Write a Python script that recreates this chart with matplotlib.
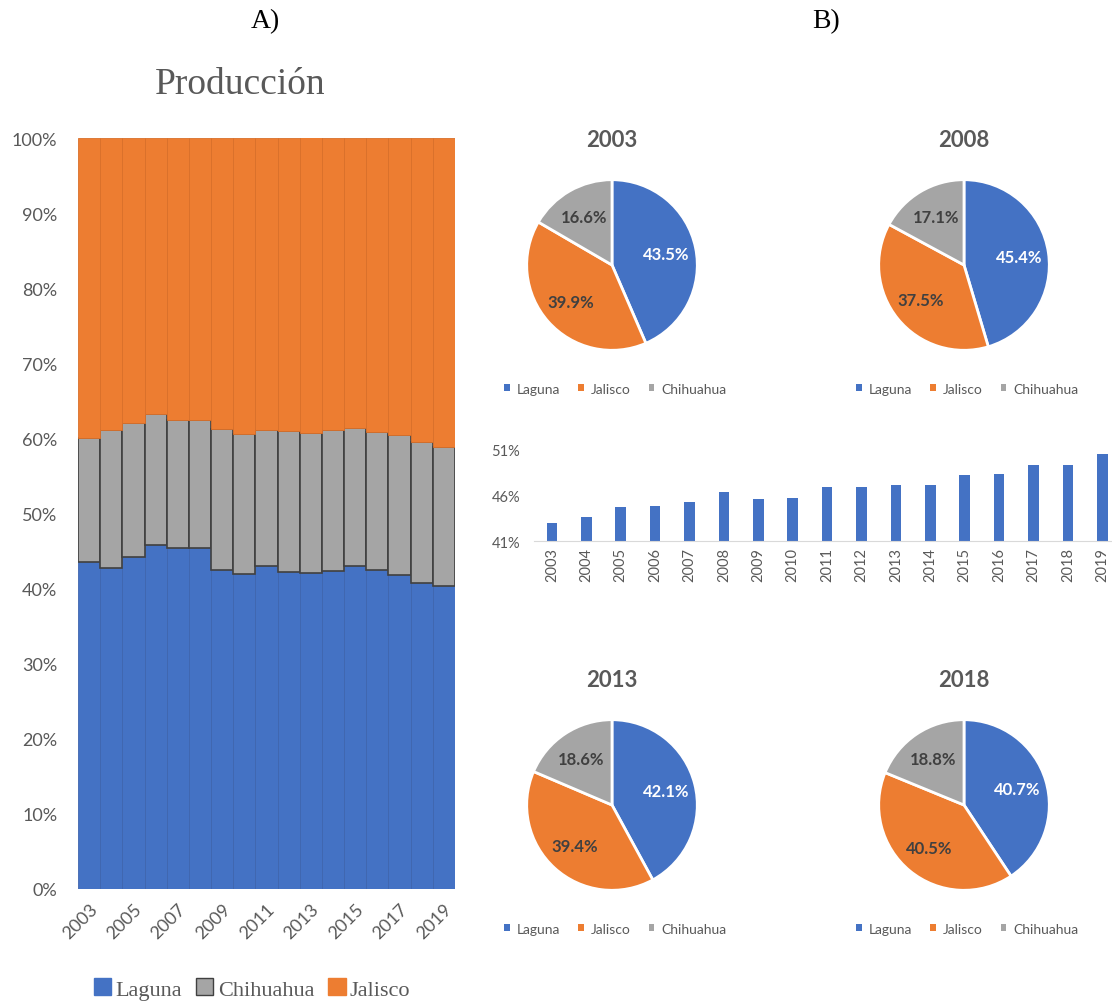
import numpy as np
import matplotlib
matplotlib.use("Agg")
import matplotlib.pyplot as plt
from matplotlib.patches import Patch

# data
years = list(range(2003, 2020))
laguna = [43.5, 42.8, 44.2, 45.8, 45.4, 45.4, 42.5, 41.9, 43.0, 42.2, 42.1, 42.3, 43.0, 42.5, 41.8, 40.7, 40.3]
chihuahua = [16.6, 18.3, 17.8, 17.45, 17.0, 17.1, 18.7, 18.7, 18.15, 18.8, 18.6, 18.8, 18.4, 18.4, 18.7, 18.8, 18.6]
jalisco = [39.9, 38.9, 38.0, 36.75, 37.6, 37.5, 38.8, 39.4, 38.85, 39.0, 39.4, 38.9, 38.6, 39.1, 39.5, 40.5, 41.1]

pie_years = [2003, 2008, 2013, 2018]
pie_laguna = [43.5, 45.4, 42.1, 40.7]
pie_jalisco = [39.9, 37.5, 39.4, 40.5]
pie_chihuahua = [16.6, 17.1, 18.6, 18.8]

laguna_share = [43.0, 43.7, 44.7, 44.9, 45.3, 46.4, 45.6, 45.7, 46.9, 46.9, 47.2, 47.2, 48.2, 48.3, 49.3, 49.3, 50.5]

BLUE = '#4472C4'
ORANGE = '#ED7D31'
GRAY = '#A5A5A5'
TXT = '#595959'
SANS = ['Lato', 'DejaVu Sans']
SERIF = ['Liberation Serif', 'DejaVu Serif']

W, H = 1112, 1004
fig = plt.figure(figsize=(W / 100, H / 100), dpi=100)
fig.patch.set_facecolor('white')


def px_axes(x0, y0, x1, y1):
    # pixel box (top-left origin) -> figure axes
    return fig.add_axes([x0 / W, 1 - y1 / H, (x1 - x0) / W, (y1 - y0) / H])


# headers
fig.text(265 / W, 1 - 22 / H, 'A)', ha='center', va='center', fontsize=20, family=SERIF, color='black')
fig.text(826 / W, 1 - 22 / H, 'B)', ha='center', va='center', fontsize=20, family=SERIF, color='black')

# ---- A) stacked 100% bars
ax = px_axes(78, 139, 455, 890)
x = np.arange(len(years))
ax.bar(x, laguna, width=1.0, color=BLUE, edgecolor='#3F65AE', linewidth=0.6)
ax.bar(x, chihuahua, width=1.0, bottom=laguna, color=GRAY, edgecolor='#404040', linewidth=1.2)
bottom2 = np.array(laguna) + np.array(chihuahua)
ax.bar(x, jalisco, width=1.0, bottom=bottom2, color=ORANGE, edgecolor='#D9702A', linewidth=0.6)
ax.set_xlim(-0.5, len(years) - 0.5)
ax.set_ylim(0, 100)
ax.set_yticks(range(0, 101, 10))
ax.set_yticklabels([f'{v}%' for v in range(0, 101, 10)], family=SANS, fontsize=13, color=TXT)
ax.set_xticks(x[::2])
ax.set_xticklabels([str(y) for y in years[::2]], rotation=45, ha='right', rotation_mode='anchor',
                   family=SANS, fontsize=13, color=TXT)
ax.tick_params(length=0)
ax.tick_params(axis='y', pad=15)
ax.tick_params(axis='x', pad=8)
for s in ax.spines.values():
    s.set_visible(False)
fig.text(240 / W, 1 - 85 / H, 'Producción', ha='center', va='center', fontsize=27, family=SERIF, color=TXT)

handles = [Patch(facecolor=BLUE, edgecolor=BLUE), Patch(facecolor=GRAY, edgecolor='#404040'),
           Patch(facecolor=ORANGE, edgecolor=ORANGE)]
fig.legend(handles, ['Laguna', 'Chihuahua', 'Jalisco'], loc='center', bbox_to_anchor=(252 / W, 1 - 990 / H),
           ncol=3, frameon=False, handlelength=0.8, handleheight=0.8, handletextpad=0.2,
           columnspacing=0.6, prop={'family': SERIF, 'size': 16}, labelcolor=TXT)

# ---- B) pies
pie_centers = [(612, 266), (964, 266), (612, 806), (964, 806)]
R = 87
for i, (cx, cy) in enumerate(pie_centers):
    pax = px_axes(cx - R, cy - R, cx + R, cy + R)
    vals = [pie_laguna[i], pie_jalisco[i], pie_chihuahua[i]]
    wedges, texts, autos = pax.pie(vals, colors=[BLUE, ORANGE, GRAY], startangle=90, counterclock=False,
                                   autopct='%.1f%%', pctdistance=0.65, radius=1.0,
                                   wedgeprops={'edgecolor': 'white', 'linewidth': 2})
    for j, t in enumerate(autos):
        t.set_fontfamily(SANS)
        t.set_fontsize(12)
        t.set_fontweight('bold')
        t.set_color('white' if j == 0 else '#404040')
    pax.set_xlim(-1.02, 1.02)
    pax.set_ylim(-1.02, 1.02)
    pax.set_aspect('equal')
    pax.text(0.5, 1.22, str(pie_years[i]), transform=pax.transAxes, ha='center', va='center',
             fontsize=16, fontweight='bold', family=SANS, color=TXT)
    h = [Patch(facecolor=c) for c in (BLUE, ORANGE, GRAY)]
    pax.legend(h, ['Laguna', 'Jalisco', 'Chihuahua'], loc='center', bbox_to_anchor=(0.52, -0.21),
               ncol=3, frameon=False, handlelength=0.4, handleheight=0.4, handletextpad=0.5,
               columnspacing=1.3, prop={'family': SANS, 'size': 10}, labelcolor=TXT)

# ---- B) middle bar chart
bax = px_axes(534, 450.7, 1112, 542.3)
bx = np.arange(len(years))
bax.bar(bx, laguna_share, width=0.31, color=BLUE)
bax.set_xlim(-0.52, 16.28)
bax.set_ylim(41, 51)
bax.set_yticks([41, 46, 51])
bax.set_yticklabels(['41%', '46%', '51%'], family=SANS, fontsize=10.5, color=TXT)
bax.set_xticks(bx)
bax.set_xticklabels([str(y) for y in years], rotation=90, family=SANS, fontsize=10.5, color=TXT)
bax.tick_params(length=0)
bax.tick_params(axis='y', pad=10)
bax.tick_params(axis='x', pad=4)
for k, s in bax.spines.items():
    s.set_visible(k == 'bottom')
bax.spines['bottom'].set_color('#D9D9D9')

fig.savefig('out.png', dpi=100, facecolor='white')
